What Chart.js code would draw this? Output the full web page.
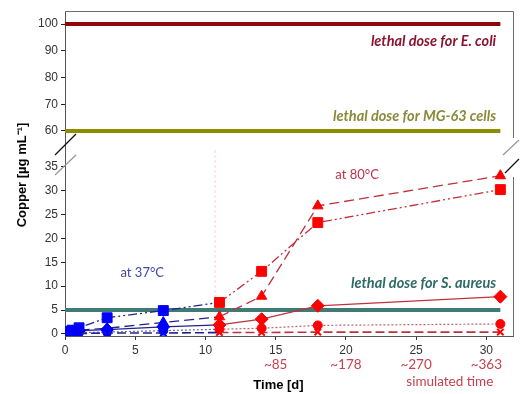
<!DOCTYPE html>
<html><head><meta charset="utf-8">
<script src="https://cdn.jsdelivr.net/npm/chart.js@4/dist/chart.umd.min.js"></script>
<style>html,body{margin:0;padding:0;background:#fff}#wrap{width:521px;height:394px}</style>
</head><body><div id="wrap"><canvas id="c" width="521" height="394"></canvas></div>
<script>
// ---- data ----
const timeDays   = [0, 0.25, 0.5, 1, 3, 7, 11, 14, 18, 31];
const squares    = [0.2, 0.5, 0.8, 1.3, 3.4, 4.9, 6.6, 13.1, 23.3, 30.2];
const triangles  = [0.1, 0.3, 0.5, 0.8, 1.2, 2.4, 3.6, 7.9, 26.8, 33.1];
const diamonds   = [0.1, 0.3, 0.5, 0.7, 0.9, 1.5, 1.9, 3.1, 5.9, 7.8];
const circles    = [0.0, 0.1, 0.2, 0.3, 0.4, 0.7, 1.0, 1.2, 1.8, 2.1];
const crosses    = [0.0, 0.0, 0.1, 0.1, 0.2, 0.2, 0.3, 0.3, 0.4, 0.4];
const lethalDoseEcoli = 100, lethalDoseMG63 = 60, lethalDoseSaureus = 5;
const lineSpan = [0, 31];
const xTicks = [0, 5, 10, 15, 20, 25, 30];
const topTicks = [60, 70, 80, 90, 100];
const bottomTicks = [0, 5, 10, 15, 20, 25, 30, 35];
const simDays = [15, 20, 25, 30];
const simLabels = ['~85', '~178', '~270', '~363'];
const phaseChangeDay = 10.7;

// ---- styles ----
const NAVY = '#23238f', REDLINE = '#c0303f', BLUE = '#0000ff', RED = '#ff0000';
const ptColor = timeDays.map(t => t < 11 ? BLUE : RED);
const segColor = ctx => ctx.p0.parsed.x < 11 ? NAVY : REDLINE;
const segColorGray = ctx => ctx.p0.parsed.x < 11 ? '#6a6aa8' : '#c06070';
const pts = arr => timeDays.map((t, i) => ({x: t, y: arr[i]}));
const hline = v => lineSpan.map(x => ({x, y: v}));

function series(arr, style, radius, dash, seg, width) {
  return {data: pts(arr), yAxisID: 'yBot', pointStyle: style, pointRadius: radius,
    pointBackgroundColor: ptColor, pointBorderColor: ptColor, pointBorderWidth: style === 'crossRot' ? 2 : 1,
    borderWidth: width || 1.3, borderDash: dash, borderColor: NAVY, segment: {borderColor: seg}, fill: false, order: 1};
}

const datasets = [
  {data: hline(lethalDoseEcoli), yAxisID: 'yTop', borderColor: '#8e0a0a', borderWidth: 4, pointRadius: 0, order: 5},
  {data: hline(lethalDoseMG63), yAxisID: 'yTop', borderColor: '#8f8c00', borderWidth: 4, pointRadius: 0, order: 5},
  {data: hline(lethalDoseSaureus), yAxisID: 'yBot', borderColor: '#3f7a75', borderWidth: 4, pointRadius: 0, order: 5},
  series(crosses, 'crossRot', 4.5, [9, 4], segColor, 1.6),
  series(circles, 'circle', 4.5, [2, 2], segColorGray, 1.2),
  series(diamonds, 'rectRot', 6.5, [], segColor, 1.3),
  series(triangles, 'triangle', 6, [10, 5], segColor, 1.3),
  series(squares, 'rect', 7, [9, 3, 2, 3, 2, 3], segColor, 1.3),
];

const fixTicks = vals => scale => { scale.ticks = vals.map(v => ({value: v})); };

const deco = {
  id: 'deco',
  beforeDatasetsDraw(chart) {
    const {ctx, scales: {x, yBot}} = chart;
    const px = x.getPixelForValue(phaseChangeDay);
    ctx.save();
    ctx.strokeStyle = '#fbe4ea'; ctx.lineWidth = 2; ctx.setLineDash([3, 2]);
    ctx.beginPath(); ctx.moveTo(px, yBot.top + 2); ctx.lineTo(px, yBot.bottom); ctx.stroke();
    ctx.restore();
  },
  afterDraw(chart) {
    const {ctx, chartArea: a, scales: {x, yTop, yBot}} = chart;
    const b = yTop.bottom;
    ctx.save();
    // frame top and right
    ctx.strokeStyle = '#6b6b6b'; ctx.lineWidth = 1;
    ctx.beginPath();
    ctx.moveTo(a.left, a.top + 0.5); ctx.lineTo(a.right + 0.5, a.top + 0.5); ctx.lineTo(a.right + 0.5, b - 10);
    ctx.moveTo(a.right + 0.5, b + 29); ctx.lineTo(a.right + 0.5, a.bottom);
    ctx.stroke();
    // break marks
    ctx.lineWidth = 1.3;
    ctx.strokeStyle = '#111';
    ctx.beginPath(); ctx.moveTo(a.left - 10, b + 7); ctx.lineTo(a.left + 11, b - 14); ctx.stroke();
    ctx.beginPath(); ctx.moveTo(a.right - 8, b + 25); ctx.lineTo(a.right + 6, b + 11); ctx.stroke();
    ctx.strokeStyle = '#9a9a9a';
    ctx.beginPath(); ctx.moveTo(a.left - 10, b + 27); ctx.lineTo(a.left + 11, b + 7); ctx.stroke();
    ctx.beginPath(); ctx.moveTo(a.right - 10, b + 7); ctx.lineTo(a.right + 6, b - 8); ctx.stroke();

    // lethal dose labels
    ctx.textAlign = 'right'; ctx.textBaseline = 'middle';
    ctx.font = 'italic bold 14.5px Lato';
    const rx = x.getPixelForValue(30.7);
    ctx.fillStyle = '#8a1530'; ctx.fillText('lethal dose for E. coli', rx, yTop.getPixelForValue(93.5));
    ctx.fillStyle = '#8c8a3a'; ctx.fillText('lethal dose for MG-63 cells', rx, yTop.getPixelForValue(65.5));
    ctx.fillStyle = '#2e6a66'; ctx.fillText('lethal dose for S. aureus', rx, yBot.getPixelForValue(10.5));

    ctx.textAlign = 'center';
    ctx.font = '13px Lato';
    ctx.fillStyle = '#c0304a'; ctx.fillText('at 80°C', x.getPixelForValue(20.8), yBot.getPixelForValue(33.2));
    ctx.fillStyle = '#3f4aa0'; ctx.fillText('at 37°C', x.getPixelForValue(5.5), yBot.getPixelForValue(12.8));

    // simulated time labels
    ctx.font = '13.5px Lato';
    ctx.fillStyle = '#c8404f';
    simDays.forEach((d, i) => ctx.fillText(simLabels[i], x.getPixelForValue(d), a.bottom + 29));
    ctx.fillText('simulated time', x.getPixelForValue(27.4), a.bottom + 46);

    // axis titles
    ctx.fillStyle = '#000';
    ctx.font = 'bold 13px "Liberation Sans"';
    ctx.fillText('Time [d]', x.getPixelForValue(15.2), a.bottom + 49);
    ctx.translate(22, 175); ctx.rotate(-Math.PI / 2);
    ctx.fillText('Copper [µg mL⁻¹]', 0, 0);
    ctx.restore();
  }
};

const tickFont = {family: '"Liberation Sans", Arial', size: 12};
new Chart(document.getElementById('c'), {
  type: 'line',
  data: {datasets},
  options: {
    responsive: false, animation: false, events: [],
    layout: {padding: {top: 11, right: 6, left: 0, bottom: 0}},
    plugins: {legend: {display: false}, tooltip: {enabled: false}},
    scales: {
      x: {type: 'linear', min: 0, max: 31.9,
        afterBuildTicks: fixTicks(xTicks),
        afterFit: s => { s.height = 58; },
        border: {color: '#555', width: 1},
        grid: {drawOnChartArea: false, drawTicks: true, tickLength: 4, tickColor: '#333'},
        ticks: {font: tickFont, color: '#333', padding: 3, maxRotation: 0, autoSkip: false}},
      yBot: {type: 'linear', position: 'left', stack: 'y', stackWeight: 188, min: -0.42, max: 38.9,
        afterBuildTicks: fixTicks(bottomTicks),
        afterFit: s => { s.width = 65; },
        border: {color: '#555', width: 1},
        grid: {drawOnChartArea: false, drawTicks: true, tickLength: 4, tickColor: '#222'},
        ticks: {font: tickFont, color: '#333', padding: 3, autoSkip: false}},
      yTop: {type: 'linear', position: 'left', stack: 'y', stackWeight: 137, min: 53.6, max: 104.9,
        afterBuildTicks: fixTicks(topTicks),
        afterFit: s => { s.width = 65; },
        border: {color: '#555', width: 1},
        grid: {drawOnChartArea: false, drawTicks: true, tickLength: 4, tickColor: '#222'},
        ticks: {font: tickFont, color: '#333', padding: 3, autoSkip: false}}
    }
  },
  plugins: [deco]
});
</script></body></html>
